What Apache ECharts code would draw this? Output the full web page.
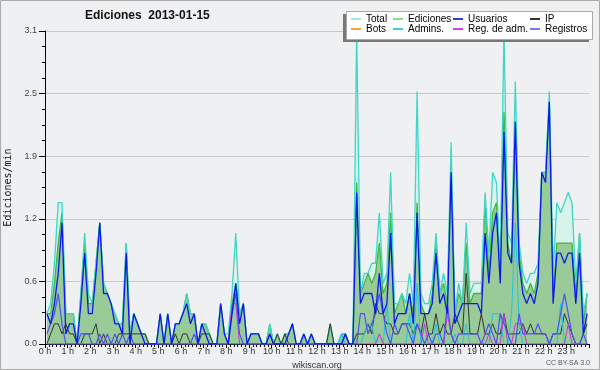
<!DOCTYPE html>
<html><head><meta charset="utf-8">
<script src="https://cdn.jsdelivr.net/npm/echarts@6/dist/echarts.min.js"></script>
<style>html,body{margin:0;padding:0;background:#eff0f2}#c{width:600px;height:370px}</style>
</head><body><div id="c"></div>
<script>
// 10-minute bins, values in edits per minute (144 bins = 24 h)
const hourLabels = Array.from({length:24},(_, h)=>h+' h');
const total = [
 .3,.4,.8,1.4,1.4,.3,  .3,.3,0,.5,1.1,.5,  .4,.8,1.2,.6,.5,.4,  .3,.2,.2,1.0,.1,.3,
 .2,.1,.1,0,0,0,  .3,0,.3,0,.2,.2,  .3,.5,.3,.3,0,.2,  .2,.1,0,0,.4,.1,
 .1,.5,1.1,.3,.4,0,  .1,.1,.1,0,0,.2,  0,.1,0,.1,.1,.2,  0,0,.1,0,.1,0,
 0,0,0,.2,0,0,  .1,.1,0,0,3.1,.5,  .7,.7,.8,.8,1.3,.6,  .7,1.7,.4,.4,.5,.4,
 .7,.4,2.5,.5,.4,.4,  .6,1.1,.5,.7,.5,2.0,  .3,.6,.4,1.2,.5,.6,  .6,.6,1.5,.9,1.7,1.6,
 .8,3.1,1.1,1.0,2.6,1.0,  .7,.6,.7,.7,.8,1.7,  1.7,2.5,.7,1.4,1.3,1.4,  1.5,1.4,.6,1.1,.3,.5
];
const ediciones = [
 .3,.3,.6,1.0,1.3,.3,  .3,.3,0,.5,1.0,.4,  .4,.8,1.2,.6,.5,.4,  .3,.2,.2,1.0,.1,.3,
 .2,.1,.1,0,0,0,  .3,0,.3,0,.2,.2,  .3,.5,.3,.3,0,.2,  .2,.1,0,0,.4,.1,
 0,.4,.6,.3,.4,0,  .1,.1,.1,0,0,.2,  0,.1,0,.1,.1,.2,  0,0,.1,0,.1,0,
 0,0,0,.2,0,0,  .1,.1,0,0,1.6,.5,  .6,.7,.6,.7,1.0,.5,  .6,1.3,.3,.4,.5,.3,
 .5,.3,1.4,.4,.3,.3,  .5,1.0,.5,.6,.4,1.8,  .3,.5,.4,1.0,.4,.5,  .5,.5,1.4,.7,1.3,1.4,
 .7,2.3,1.0,.8,2.2,.9,  .6,.5,.6,.5,.7,1.7,  1.7,2.4,.5,1.0,1.0,1.0,  1.0,1.0,.5,1.1,.2,.5
];
const usuarios = [
 .3,.2,.4,.7,1.2,.1,  .2,.2,0,.4,.9,.3,  .3,.7,1.2,.5,.5,.4,  .2,.2,.1,.9,0,.3,
 .2,.1,0,0,0,0,  .3,0,.3,0,.2,.2,  .3,.4,.2,.3,0,.2,  .1,0,0,0,.4,.1,
 0,.3,.6,.2,.4,0,  .1,.1,.1,0,0,.1,  0,0,0,0,.1,.2,  0,0,.1,0,.1,0,
 0,0,0,0,0,0,  0,.1,0,0,1.5,.4,  .5,.5,.5,.3,.7,.3,  .4,1.1,.2,.3,.3,.3,
 .5,.2,1.3,.3,.3,.3,  .4,.9,.4,.5,.3,1.7,  .2,.3,.4,.4,.4,.4,  .4,.3,1.1,.6,1.1,1.3,
 .6,2.1,.9,.8,2.2,.8,  .5,.4,.5,.4,.6,1.7,  1.6,2.4,.4,.9,.9,.8,  .9,.9,.4,.9,.1,.3
];
const ip = [
 0,.1,.2,.2,.1,.2,  .1,.1,0,0,.1,.1,  .1,.2,0,.1,0,0,  0,.1,.1,.1,.1,.1,
 .1,.1,.1,0,0,0,  0,0,0,0,.1,0,  .1,.1,0,0,0,.1,  .1,.1,0,0,0,0,
 0,0,0,0,0,0,  0,0,0,0,0,.1,  0,.1,0,.1,0,0,  0,0,0,0,0,0,
 0,0,0,.2,0,0,  0,0,0,0,.1,.1,  .1,.2,.1,.4,.3,.3,  .2,.2,.1,.1,.2,.2,
 .2,.1,.2,.1,.3,.1,  .1,.3,.1,.2,.1,.1,  .3,.2,.1,.7,.1,.1,  .1,.3,.1,.1,.2,.1,
 .1,.3,.1,.1,.1,.1,  .2,.1,.2,.1,.1,.1,  .1,0,.1,.1,.1,.3,  .2,.1,0,0,.1,.2
];
const registros = [
 .1,.2,.3,.5,.2,0,  0,0,0,.1,.1,.1,  0,0,.1,0,.1,0,  .1,0,.1,0,.1,0,
 0,0,0,0,0,0,  0,0,0,0,0,0,  0,0,0,.1,0,0,  0,0,0,0,0,0,
 0,.3,.5,.1,0,0,  0,0,0,0,0,0,  0,0,0,0,0,0,  0,0,0,0,0,0,
 0,0,0,0,0,0,  0,.1,0,0,0,.3,  .3,.1,.2,.3,.5,.3,  .1,0,.2,.1,.2,.2,
 .1,0,.2,.1,0,.1,  0,.1,.1,0,.4,.1,  0,.1,.1,.1,.1,.1,  .1,0,.1,.2,.1,0,
 .3,.2,.1,0,0,.3,  .1,.1,.1,.1,.2,.1,  .1,0,.1,.1,.3,.5,  .3,.1,0,0,.1,0
];
const admins = [
 0,0,0,0,0,0,  0,0,0,0,0,0,  0,0,0,0,0,0,  0,0,0,0,0,0,
 0,0,0,0,0,0,  0,0,0,0,0,0,  0,0,0,0,0,0,  0,0,0,0,0,0,
 0,0,0,0,0,0,  0,0,0,0,0,0,  0,0,0,0,0,0,  0,0,0,0,0,0,
 0,0,0,0,0,0,  .1,0,0,0,0,0,  .1,.2,.2,0,.1,0,  .4,0,0,0,0,0,
 .3,0,.6,0,0,0,  0,.2,0,0,0,0,  .1,0,0,.2,0,0,  0,0,0,0,.3,.3,
 .3,0,0,.3,1.2,.2,  0,0,0,0,0,0,  0,0,0,0,.4,0,  0,0,0,0,0,0
];
const regAdm = [
 0,0,0,0,0,0,  0,0,0,0,0,0,  0,0,0,0,0,0,  0,0,0,0,0,0,
 0,0,0,0,0,0,  0,0,0,0,0,0,  0,0,0,0,0,0,  0,0,0,0,0,0,
 0,.4,.4,0,0,0,  0,0,0,0,0,0,  0,0,0,0,0,0,  0,0,0,0,0,0,
 0,0,0,0,0,0,  0,0,0,0,0,0,  0,0,0,0,.1,0,  0,0,0,0,0,0,
 0,0,0,0,.2,0,  0,0,0,0,.3,.1,  0,0,0,0,0,0,  0,0,0,.1,0,0,
 0,.3,0,0,.2,.2,  .2,0,0,0,0,0,  0,0,0,0,0,0,  .2,0,0,0,0,0
];
const bots = [];

const pts = arr => arr.map((v,i)=>[i+0.5, v]);
const lineS = (name, data, color, width, z) => ({
  name, type:'line', data: pts(data), symbol:'none', z,
  lineStyle:{color, width}, itemStyle:{color}
});
const chart = echarts.init(document.getElementById('c'));
const legBase = {orient:'vertical', top:14, itemGap:0, itemWidth:10, itemHeight:2, icon:'rect',
  padding:0, selectedMode:false, z:20,
  textStyle:{fontSize:10, fontFamily:'Liberation Sans', color:'#000', lineHeight:10}};
chart.setOption({
  animation:false,
  backgroundColor:'#eff0f2',
  title:{text:'Ediciones  2013-01-15', left:85, top:9, padding:0,
    textStyle:{fontSize:12, fontWeight:'bold', fontFamily:'Liberation Sans', color:'#111', lineHeight:14}},
  grid:{left:45, right:11, top:31, bottom:26, outerBoundsMode:'none', containLabel:false},
  legend:[
    Object.assign({}, legBase, {left:351, data:[{name:'Total', itemStyle:{color:'#a8e6dc'}},{name:'Bots', itemStyle:{color:'#ffa040'}}]}),
    Object.assign({}, legBase, {left:393, data:[{name:'Ediciones', itemStyle:{color:'#8fd68f'}},{name:'Admins.', itemStyle:{color:'#40cce0'}}]}),
    Object.assign({}, legBase, {left:453, data:[{name:'Usuarios', itemStyle:{color:'#3a3ae6'}},{name:'Reg. de adm.', itemStyle:{color:'#d040e0'}}]}),
    Object.assign({}, legBase, {left:530, data:[{name:'IP', itemStyle:{color:'#333'}},{name:'Registros', itemStyle:{color:'#7a7af0'}}]})
  ],
  xAxis:{type:'value', min:0, max:144, interval:6,
    name:'wikiscan.org', nameLocation:'middle', nameGap:11,
    nameTextStyle:{fontSize:9, color:'#333', fontFamily:'Liberation Sans'},
    axisLine:{lineStyle:{color:'#000', width:1}},
    axisTick:{length:4, lineStyle:{color:'#000'}},
    minorTick:{show:true, splitNumber:6, length:3, lineStyle:{color:'#000'}},
    axisLabel:{formatter:v=> v>=144 ? '' : hourLabels[Math.round(v/6)], fontSize:9, color:'#333', margin:3, fontFamily:'Liberation Sans'},
    splitLine:{show:false}},
  yAxis:{type:'value', min:0, max:3.1, interval:0.62,
    name:'Ediciones/min', nameLocation:'middle', nameGap:30, nameRotate:90,
    nameTextStyle:{fontSize:10, color:'#111', fontFamily:'DejaVu Sans Mono'},
    axisLine:{show:true, lineStyle:{color:'#000', width:1}},
    axisTick:{show:true, length:6, lineStyle:{color:'#000'}},
    minorTick:{show:true, splitNumber:4, length:3, lineStyle:{color:'#000'}},
    axisLabel:{formatter:v=>v.toFixed(1), fontSize:9, color:'#444', margin:8, fontFamily:'Liberation Sans'},
    splitLine:{lineStyle:{color:'#c8c8c8'}}},
  series:[
    {name:'Total', type:'line', data:pts(total), symbol:'none', z:1,
      lineStyle:{width:0, opacity:0}, itemStyle:{color:'#a8e6dc'}, areaStyle:{color:'#d8f2ec', opacity:1}},
    {name:'Ediciones', type:'line', data:pts(ediciones), symbol:'none', z:2,
      lineStyle:{color:'#3cb83c', width:1.3}, itemStyle:{color:'#8fd68f'}, areaStyle:{color:'#98cb98', opacity:1}},
    lineS('Total', total, '#3ed6c6', 1.3, 3),
    lineS('IP', ip, '#333333', 1, 4),
    lineS('Admins.', admins, '#22c4dc', 1, 4),
    lineS('Reg. de adm.', regAdm, '#cc33dd', 1, 4),
    lineS('Registros', registros, '#4f4ff5', 1.2, 5),
    lineS('Usuarios', usuarios, '#0a18ee', 1.3, 6),
    lineS('Bots', bots, '#ff9933', 1, 6)
  ],
  graphic:[
    {type:'rect', z:0, silent:true, shape:{x:0.5, y:0.5, width:599, height:369}, style:{fill:'none', stroke:'#aaaaaa', lineWidth:1}},
    {type:'rect', z:10, silent:true, shape:{x:343, y:14, width:246, height:28}, style:{fill:'#787878'}},
    {type:'rect', z:11, silent:true, shape:{x:346.5, y:11.5, width:246, height:28}, style:{fill:'#ffffff', stroke:'#aaaaaa', lineWidth:1}},
    {type:'text', z:12, silent:true, style:{x:590, y:363, text:'CC BY-SA 3.0', align:'right', verticalAlign:'middle', fontSize:7, fill:'#555', fontFamily:'Liberation Sans'}}
  ]
});
</script></body></html>
